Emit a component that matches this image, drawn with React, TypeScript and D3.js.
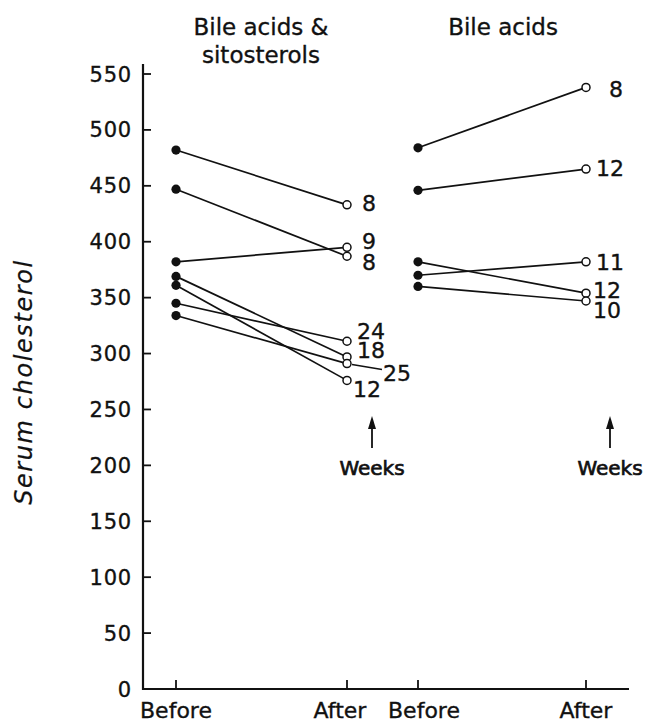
import * as d3 from 'd3'

// Serum cholesterol before / after, per patient
const combinedBefore = [482, 447, 382, 369, 361, 345, 334]
const combinedAfter = [433, 387, 395, 297, 276, 311, 291]
const combinedWeeks = ['8', '8', '9', '18', '12', '24', '25']

const bileBefore = [484, 446, 382, 370, 360]
const bileAfter = [538, 465, 354, 382, 347]
const bileWeeks = ['8', '12', '12', '11', '10']

const yTicks = [0, 50, 100, 150, 200, 250, 300, 350, 400, 450, 500, 550]
const phases = ['Before', 'After']

// label nudges [dx, dy] so numbers don't collide
const combinedNudge = [[15, -2], [15, 6], [15, -6], [10, -7], [6, 9], [10, -10], [36, 9]]
const bileNudge = [[23, 2], [10, -1], [7, -3], [10, 0], [7, 9]]

const W = 652
const H = 723
const font = 'DejaVu Sans, sans-serif'
const ink = '#111'

const y = d3.scaleLinear().domain([0, 550]).range([689, 74])
const xLeft = d3.scalePoint().domain(phases).range([176, 347])
const xRight = d3.scalePoint().domain(phases).range([418, 586])

const T = ({ children, size = 22, ...rest }) => (
  <text fontSize={size} fontFamily={font} fill={ink} stroke={ink} strokeWidth={0.35} {...rest}>{children}</text>
)

const Panel = ({ x, before, after, weeks, nudge }) => (
  <g>
    {before.map((b, i) => (
      <line key={'l' + i} x1={x('Before')} y1={y(b)} x2={x('After')} y2={y(after[i])}
        stroke={ink} strokeWidth={1.7} />
    ))}
    {before.map((b, i) => (
      <circle key={'b' + i} cx={x('Before')} cy={y(b)} r={4.6} fill={ink} />
    ))}
    {after.map((a, i) => (
      <circle key={'a' + i} cx={x('After')} cy={y(a)} r={4} fill="#fff" stroke={ink} strokeWidth={1.5} />
    ))}
    {weeks.map((w, i) => (
      <T key={'t' + i} x={x('After') + nudge[i][0]} y={y(after[i]) + nudge[i][1]} dy="0.36em">{w}</T>
    ))}
  </g>
)

const Weeks = ({ cx }) => (
  <g>
    <line x1={cx} x2={cx} y1={448} y2={424} stroke={ink} strokeWidth={1.8} />
    <path d={`M${cx},416 L${cx - 4},429 L${cx + 4},429 Z`} fill={ink} />
    <T x={cx} y={475} textAnchor="middle" size={20} strokeWidth={0.7}>Weeks</T>
  </g>
)

export default function App() {
  const leaderIdx = combinedWeeks.length - 1
  const lx = xLeft('After')
  const ly = y(combinedAfter[leaderIdx])
  return (
    <svg width={W} height={H} style={{ position: 'absolute', left: 0, top: 0, background: '#fff' }}>
      {/* titles */}
      <T x={261} y={35} textAnchor="middle" size={23}>Bile acids &amp;</T>
      <T x={261} y={63} textAnchor="middle" size={23}>sitosterols</T>
      <T x={503} y={35} textAnchor="middle" size={23}>Bile acids</T>

      {/* y axis */}
      <line x1={143} x2={143} y1={64} y2={690} stroke={ink} strokeWidth={2.2} />
      {yTicks.map(t => (
        <g key={t}>
          <line x1={143} x2={151} y1={y(t)} y2={y(t)} stroke={ink} strokeWidth={1.8} />
          <T x={132} y={y(t)} dy="0.36em" textAnchor="end" size={21} letterSpacing={0.8}>{t}</T>
        </g>
      ))}
      <T transform={`translate(32,382) rotate(-90)`} textAnchor="middle" size={24}
        fontStyle="italic" letterSpacing={1.6} strokeWidth={0.2}>Serum cholesterol</T>

      {/* x axis */}
      <line x1={142} x2={629} y1={689} y2={689} stroke={ink} strokeWidth={2.2} />
      {[xLeft, xRight].map((sx, k) => phases.map(p => (
        <line key={k + p} x1={sx(p)} x2={sx(p)} y1={689} y2={680} stroke={ink} strokeWidth={1.8} />
      )))}
      <T x={xLeft('Before')} y={718} textAnchor="middle">Before</T>
      <T x={xLeft('After') - 7} y={718} textAnchor="middle">After</T>
      <T x={xRight('Before') + 6} y={718} textAnchor="middle">Before</T>
      <T x={xRight('After')} y={718} textAnchor="middle">After</T>

      <Panel x={xLeft} before={combinedBefore} after={combinedAfter} weeks={combinedWeeks} nudge={combinedNudge} />
      <Panel x={xRight} before={bileBefore} after={bileAfter} weeks={bileWeeks} nudge={bileNudge} />

      {/* leader for the "25" label */}
      <line x1={lx + 5} y1={ly + 1} x2={lx + 35} y2={ly + 6} stroke={ink} strokeWidth={1.5} />

      <Weeks cx={xLeft('After') + 25} />
      <Weeks cx={xRight('After') + 24} />
    </svg>
  )
}
